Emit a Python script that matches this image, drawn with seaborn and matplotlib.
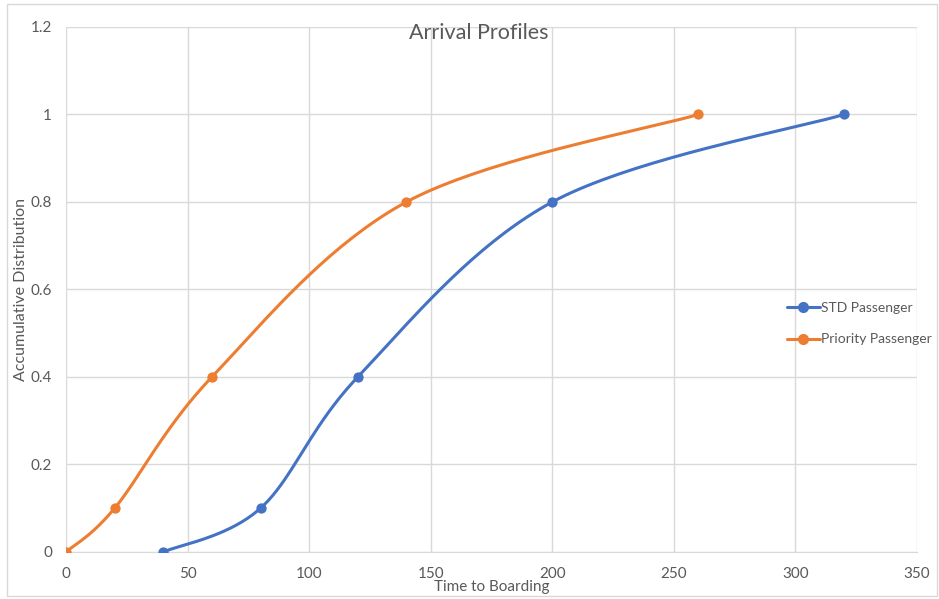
import numpy as np
import pandas as pd
import seaborn as sns
import matplotlib.pyplot as plt
from matplotlib.lines import Line2D
from matplotlib.patches import Rectangle

std_x = [40, 80, 120, 200, 320]
std_y = [0, 0.1, 0.4, 0.8, 1.0]
pri_x = [0, 20, 60, 140, 260]
pri_y = [0, 0.1, 0.4, 0.8, 1.0]

BLUE = '#4472C4'
ORANGE = '#ED7D31'
GRAY = '#595959'
GRID = '#D9D9D9'


def smooth(xs, ys, n=40):
    # excel style smoothed line: cubic bezier with catmull-rom control points
    p = np.column_stack([xs, ys]).astype(float)
    p = np.vstack([p[0], p, p[-1]])
    out = []
    t = np.linspace(0, 1, n)[:, None]
    for i in range(1, len(p) - 2):
        p0, p1, p2, p3 = p[i - 1], p[i], p[i + 1], p[i + 2]
        c1 = p1 + (p2 - p0) / 6
        c2 = p2 - (p3 - p1) / 6
        seg = ((1 - t) ** 3) * p1 + 3 * ((1 - t) ** 2) * t * c1 + 3 * (1 - t) * t ** 2 * c2 + t ** 3 * p2
        out.append(seg)
    out = np.vstack(out)
    return out[:, 0], out[:, 1]


sns.set_style('white')
plt.rcParams['font.family'] = ['Lato', 'DejaVu Sans']

fig = plt.figure(figsize=(9.39, 5.99), dpi=100)
ax = fig.add_axes([0.0703, 0.0785, 0.9063, 0.8765])

for xs, ys, c in [(std_x, std_y, BLUE), (pri_x, pri_y, ORANGE)]:
    sx, sy = smooth(xs, ys)
    df = pd.DataFrame({'x': sx, 'y': sy})
    sns.lineplot(data=df, x='x', y='y', sort=False, color=c, linewidth=2.2, ax=ax, zorder=3)
    sns.scatterplot(x=xs, y=ys, color=c, s=55, edgecolor=c, linewidth=0, ax=ax, zorder=4)

ax.set_xlim(0, 350)
ax.set_ylim(0, 1.2)
ax.set_xticks(np.arange(0, 351, 50))
ax.set_yticks([0, 0.2, 0.4, 0.6, 0.8, 1, 1.2])
ax.set_yticklabels(['0', '0.2', '0.4', '0.6', '0.8', '1', '1.2'])
ax.grid(True, color=GRID, linewidth=1)
ax.set_axisbelow(True)
for s in ['top', 'right', 'left']:
    ax.spines[s].set_visible(False)
ax.spines['bottom'].set_color(GRID)
ax.tick_params(axis='x', colors=GRAY, labelsize=11, length=5, color=GRID, pad=5.5)
ax.tick_params(axis='y', colors=GRAY, labelsize=11, length=0, pad=10)
ax.set_xlabel('Time to Boarding', color=GRAY, fontsize=11, labelpad=-0.5)
ax.set_ylabel('Accumulative Distribution', color=GRAY, fontsize=11.5, labelpad=2)
ax.set_title('Arrival Profiles', color=GRAY, fontsize=15.5, x=0.485, y=0.962)

handles = [Line2D([], [], color=BLUE, marker='o', markersize=7, linewidth=2.2),
           Line2D([], [], color=ORANGE, marker='o', markersize=7, linewidth=2.2)]
leg = ax.legend(handles, ['STD Passenger', 'Priority Passenger'], loc='upper left',
                bbox_to_anchor=(0.832, 0.500), frameon=False, fontsize=10,
                handlelength=2.4, handletextpad=0.1, labelspacing=1.4)
for t in leg.get_texts():
    t.set_color(GRAY)

fig.patches.append(Rectangle((0.007, 0.005), 0.991, 0.988, transform=fig.transFigure,
                             fill=False, edgecolor=GRID, linewidth=1))

fig.savefig('out.png', dpi=100)
